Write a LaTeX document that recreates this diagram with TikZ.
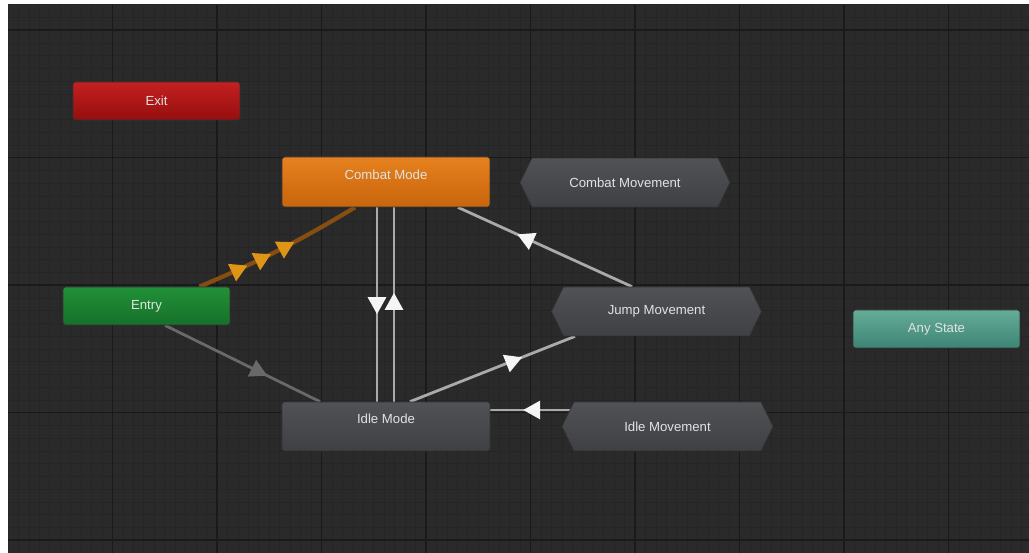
\documentclass[tikz,border=0pt]{standalone}
\usepackage{fontspec}
\setmainfont{Liberation Sans}
\usepackage{tikz}
\usetikzlibrary{arrows.meta,calc,shapes.symbols,decorations.markings,backgrounds}
\definecolor{GridBack}{RGB}{42,42,42}
\definecolor{GridMinor}{RGB}{37,37,37}
\definecolor{GridMajor}{RGB}{26,26,26}
\definecolor{ExitTop}{RGB}{196,32,32}
\definecolor{ExitBot}{RGB}{150,14,14}
\definecolor{CombatTop}{RGB}{230,130,30}
\definecolor{CombatBot}{RGB}{200,100,12}
\definecolor{EntryTop}{RGB}{34,145,56}
\definecolor{EntryBot}{RGB}{22,112,42}
\definecolor{AnyTop}{RGB}{100,172,152}
\definecolor{AnyBot}{RGB}{62,132,116}
\definecolor{StateTop}{RGB}{80,82,86}
\definecolor{StateBot}{RGB}{62,64,68}
\definecolor{LabelGray}{RGB}{226,226,226}
\definecolor{LinkGray}{RGB}{170,170,170}
\definecolor{LinkDim}{RGB}{105,105,105}
\definecolor{ArrowWhite}{RGB}{245,245,245}
\definecolor{LinkOrange}{RGB}{135,78,18}
\definecolor{ArrowOrange}{RGB}{222,148,22}
\tikzset{
  state/.style={draw=black!80,rounded corners=1.5pt,minimum width=3.34cm,minimum height=0.76cm,align=center,text=LabelGray,font=\fontsize{7.5}{9}\selectfont},
  bigstate/.style={state,minimum width=4.16cm,minimum height=1.0cm,text depth=0.3cm},
  machine/.style={draw=black!80,signal,signal to=west and east,signal pointer angle=128,top color=StateTop,bottom color=StateBot,minimum width=4.2cm,minimum height=0.98cm,text=LabelGray,font=\fontsize{7.5}{9}\selectfont},
  link/.style={draw=LinkGray,line width=1.6pt},
  midtip/.style={postaction={decorate},decoration={markings,mark=at position #1 with {\arrow{Triangle[length=0.34cm,width=0.36cm,color=ArrowWhite]}}}}
}

\begin{document}
\begin{tikzpicture}[x=0.02cm,y=-0.02cm]
\useasboundingbox (0,0) rectangle (1029,553);
% grid
\begin{scope}[on background layer]
\fill[white] (0,0) rectangle (1029,553);
\fill[GridBack] (8,5) rectangle (1029,553);
\foreach \i in {0,...,97} \draw[GridMinor,line width=0.4pt] ({8+10.45*\i},5) -- ({8+10.45*\i},553);
\foreach \j in {0,...,43} \draw[GridMinor,line width=0.4pt] (8,{4.8+12.75*\j}) -- (1029,{4.8+12.75*\j});
\foreach \i in {1,...,9} \draw[GridMajor,line width=1.1pt] ({8+104.5*\i},5) -- ({8+104.5*\i},553);
\foreach \j in {0,...,4} \draw[GridMajor,line width=1.1pt] (8,{30+127.5*\j}) -- (1029,{30+127.5*\j});
\end{scope}

% states
\node[state,top color=ExitTop,bottom color=ExitBot] (exit) at (156.5,101) {Exit};
\node[bigstate,top color=CombatTop,bottom color=CombatBot] (combat) at (386,182) {Combat Mode};
\node[machine] (cmove) at (625,182.5) {Combat Movement};
\node[state,top color=EntryTop,bottom color=EntryBot] (entry) at (146.5,306) {Entry};
\node[machine] (jump) at (656.5,311.5) {Jump Movement};
\node[state,top color=AnyTop,bottom color=AnyBot] (any) at (936.5,329) {Any State};
\node[bigstate,minimum height=0.98cm,top color=StateTop,bottom color=StateBot] (idle) at (386,426.5) {Idle Mode};
\node[machine,minimum width=4.22cm] (imove) at (667.5,426.5) {Idle Movement};

% transitions
\begin{scope}[on background layer]
\draw[draw=LinkOrange,line width=2.4pt,postaction={decorate},
  decoration={markings,
    mark=at position 0.3 with {\arrow{Triangle[length=0.34cm,width=0.36cm,color=ArrowOrange]}},
    mark=at position 0.45 with {\arrow{Triangle[length=0.34cm,width=0.36cm,color=ArrowOrange]}},
    mark=at position 0.6 with {\arrow{Triangle[length=0.34cm,width=0.36cm,color=ArrowOrange]}}}]
  ([xshift=1.06cm]entry.north) to[bend right=4] ([xshift=-0.62cm]combat.south);
\draw[draw=LinkDim,line width=1.6pt,postaction={decorate},
  decoration={markings,mark=at position 0.66 with {\arrow{Triangle[length=0.34cm,width=0.36cm,color=LinkDim]}}}]
  ([xshift=0.37cm]entry.south) -- ([xshift=-1.32cm]idle.north);
\draw[link,midtip=0.55] ([xshift=-0.18cm]combat.south) -- ([xshift=-0.18cm]idle.north);
\draw[link,midtip=0.56] ([xshift=0.16cm]idle.north) -- ([xshift=0.16cm]combat.south);
\draw[link,midtip=0.66] ([xshift=-0.49cm]jump.north) -- ([xshift=1.44cm]combat.south);
\draw[link,midtip=0.68] ([xshift=0.48cm]idle.north) -- ([xshift=-1.63cm]jump.south);
\draw[link,midtip=0.62] ([xshift=0.3cm,yshift=0.33cm]imove.west) -- ([yshift=0.33cm]idle.east);
\end{scope}
\end{tikzpicture}
\end{document}
